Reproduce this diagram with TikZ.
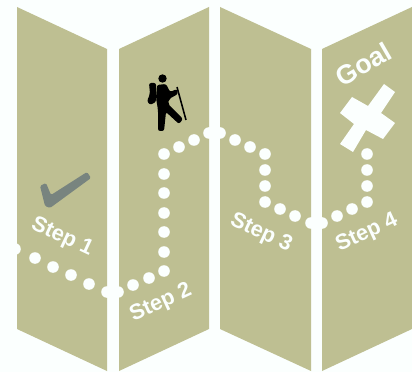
\documentclass[tikz,border=0pt]{standalone}
\usepackage{fontspec}
\setmainfont{Liberation Sans}
\definecolor{MapKhaki}{HTML}{BEBF92}
\definecolor{MapWhite}{HTML}{FBFFFE}
\definecolor{MapCheck}{HTML}{78847F}
\tikzset{
    panel/.style={
        fill=MapKhaki
    },
    dot/.style={
        fill=MapWhite
    },
    steplabel/.style={
        text=MapWhite,
        font=\fontsize{15.5}{16}\selectfont\bfseries,
        inner sep=0pt
    }
}
\begin{document}
\begin{tikzpicture}[x=0.025cm, y=-0.025cm]
    % Sheet
    \fill[MapWhite] (0,0) rectangle (412,372);

    % Map panels
    \fill[panel] (17,7) -- (107,49) -- (107,371) -- (17,329) -- cycle;
    \fill[panel] (119,49) -- (209,7) -- (209,329) -- (119,371) -- cycle;
    \fill[panel] (220,7) -- (311,49) -- (311,371) -- (220,329) -- cycle;
    \fill[panel] (322,49) -- (412,7) -- (412,329) -- (322,371) -- cycle;

    % Trail
    \foreach \x/\y in {15/249, 35/258, 53/267, 71/275, 89/284, 107/292, 118/292, 133/285, 149/278,
        164/271, 164/252, 164/232, 164/213, 164/193, 164/174, 164/154, 179/147, 194/140,
        209/133, 220/133, 235/140, 250/147, 265/154, 265/170, 265/186, 265/202, 280/209, 295/216,
        311/223, 322/223, 337/216, 352/209, 367/202, 367/186, 367/170, 367/154}
        \fill[dot] (\x,\y) circle (5.8);

    % Check mark
    \fill[MapCheck, rounded corners=1pt] (40,186) -- (46,183) -- (51,195) -- (87,172) -- (91,178) -- (50,208) -- (45,206) -- cycle;

    % Goal cross
    \fill[MapWhite] (384,84) -- (395,92) -- (381,113) -- (395,123) -- (383,139) -- (366,130)
        -- (353,152) -- (340,144) -- (354,124) -- (340,113) -- (352,97) -- (368,106) -- cycle;

    % Hiker
    \fill[black] (162.5,78.5) circle (4.2);
    \fill[black, rounded corners=1.5pt] (149,83) -- (156,83) -- (156,102) -- (150,105) -- (147,101) -- (150,94) -- cycle;
    \fill[black, rounded corners=1.5pt] (157,85) -- (166,84) -- (170,92) -- (177,89) -- (178,94) -- (169,99)
        -- (168,104) -- (183,119) -- (179,124) -- (166,112) -- (164,131) -- (158,131) -- (158,110) -- (156,98) -- cycle;
    \draw[black, line width=1.1pt] (177,87) -- (186,120);

    % Labels
    \node[steplabel, rotate=-25] (step1) at (62,237) {Step 1};
    \node[steplabel, rotate=25] (step2) at (161,303) {Step 2};
    \node[steplabel, rotate=-25] (step3) at (261,233) {Step 3};
    \node[steplabel, rotate=25] (step4) at (367,233) {Step 4};
    \node[steplabel, rotate=30, font=\fontsize{19}{19}\selectfont\bfseries] (goal) at (363,64) {Goal};
\end{tikzpicture}
\end{document}
